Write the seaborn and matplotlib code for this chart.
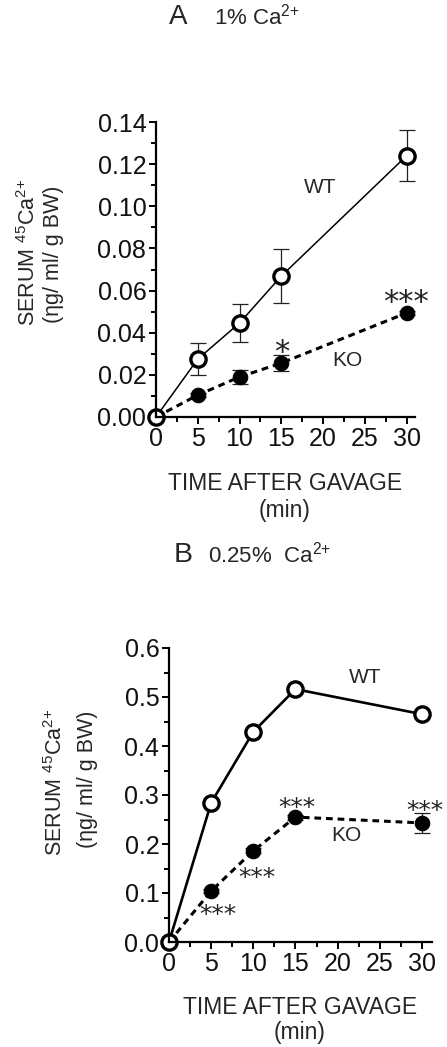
import matplotlib
matplotlib.use("Agg")
import matplotlib.pyplot as plt
import seaborn as sns
import pandas as pd
from matplotlib.ticker import MultipleLocator, FormatStrFormatter

# datos
time_min = [0, 5, 10, 15, 30]

wt_a = [0.0, 0.0275, 0.0446, 0.0669, 0.124]
wt_a_err = [0.0, 0.0075, 0.009, 0.013, 0.012]
ko_a = [0.0, 0.0104, 0.019, 0.0256, 0.0494]
ko_a_err = [0.0, 0.001, 0.0035, 0.004, 0.001]

wt_b = [0.0, 0.284, 0.429, 0.516, 0.465]
wt_b_err = [0.0, 0.005, 0.005, 0.005, 0.005]
ko_b = [0.0, 0.104, 0.186, 0.255, 0.243]
ko_b_err = [0.0, 0.005, 0.005, 0.005, 0.02]

x_ticks = [0, 5, 10, 15, 20, 25, 30]

sns.set_style("ticks")
plt.rcParams['font.family'] = ['Liberation Sans', 'DejaVu Sans']
plt.rcParams['mathtext.fontset'] = 'custom'
plt.rcParams['mathtext.rm'] = 'Liberation Sans'

W, H = 447, 1047
fig = plt.figure(figsize=(W / 100, H / 100), dpi=100)


def px(x, y):
    return x / W, 1 - y / H


def panel(rect, wt, wt_err, ko, ko_err, ylim, ymaj, ymin, fmt, xmax, wt_lw):
    ax = fig.add_axes(rect)
    df_wt = pd.DataFrame({'t': time_min, 'v': wt})
    df_ko = pd.DataFrame({'t': time_min, 'v': ko})
    ax.errorbar(time_min, wt, yerr=wt_err, fmt='none', ecolor='#222222',
                elinewidth=0.9, capsize=5.5, capthick=0.9, zorder=1.5, clip_on=False)
    ax.errorbar(time_min, ko, yerr=ko_err, fmt='none', ecolor='#222222',
                elinewidth=0.9, capsize=5.5, capthick=0.9, zorder=1.5, clip_on=False)
    sns.lineplot(data=df_ko, x='t', y='v', ax=ax, color='black', lw=2.2,
                 ls=(0, (2.2, 1.6)), marker='o', markersize=10.5,
                 markerfacecolor='black', markeredgecolor='black',
                 errorbar=None, clip_on=False, zorder=2)
    sns.lineplot(data=df_wt, x='t', y='v', ax=ax, color='black', lw=wt_lw,
                 marker='o', markersize=11, markerfacecolor='white',
                 markeredgecolor='black', markeredgewidth=2.4,
                 errorbar=None, clip_on=False, zorder=2.2)
    ax.set_xlim(0, xmax)
    ax.set_ylim(*ylim)
    ax.set_xticks(x_ticks)
    ax.xaxis.set_minor_locator(MultipleLocator(2.5))
    ax.yaxis.set_major_locator(MultipleLocator(ymaj))
    ax.yaxis.set_minor_locator(MultipleLocator(ymin))
    ax.yaxis.set_major_formatter(FormatStrFormatter(fmt))
    ax.tick_params(axis='both', which='major', length=5, width=1.4,
                   labelsize=18, pad=2, color='black', labelcolor='#111111')
    ax.tick_params(axis='both', which='minor', length=3.5, width=1.4, color='black')
    for s in ['top', 'right']:
        ax.spines[s].set_visible(False)
    for s in ['left', 'bottom']:
        ax.spines[s].set_linewidth(1.6)
        ax.spines[s].set_color('black')
        ax.spines[s].set_zorder(3)
    ax.set_xlabel('')
    ax.set_ylabel('')
    return ax


def stars(ax, text, x, y, fs):
    ax.annotate(text, xy=(x, y), xytext=(0, -0.59 * fs), textcoords='offset points',
                ha='center', va='baseline', fontsize=fs, family='DejaVu Sans',
                color='#222222', annotation_clip=False)


# panel A
ax_a = panel([156 / W, 1 - 417 / H, 259 / W, 295 / H], wt_a, wt_a_err, ko_a, ko_a_err,
             (0, 0.14), 0.02, 0.01, '%.2f', 31, 1.1)
ax_a.text(19.7, 0.109, 'WT', fontsize=15, ha='center', va='center')
ax_a.text(22.9, 0.027, 'KO', fontsize=15, ha='center', va='center')
stars(ax_a, '*', 15.1, 0.035, 22)
stars(ax_a, '***', 29.9, 0.059, 22)

# panel B
ax_b = panel([169 / W, 1 - 942 / H, 263 / W, 294 / H], wt_b, wt_b_err, ko_b, ko_b_err,
             (0, 0.6), 0.1, 0.05, '%.1f', 31.2, 1.9)
ax_b.text(23.25, 0.539, 'WT', fontsize=15, ha='center', va='center')
ax_b.text(21.1, 0.218, 'KO', fontsize=15, ha='center', va='center')
stars(ax_b, '***', 5.8, 0.071, 18)
stars(ax_b, '***', 10.4, 0.147, 18)
stars(ax_b, '***', 15.2, 0.290, 18)
stars(ax_b, '***', 30.4, 0.284, 18)

# titulos
sup = r'$\mathregular{^{2{+}}}$'
fig.text(*px(169, 24), 'A', fontsize=20, ha='left', va='baseline')
fig.text(*px(214, 24), '1% Ca' + sup, fontsize=16, ha='left', va='baseline')
fig.text(*px(174, 562), 'B', fontsize=20.5, ha='left', va='baseline')
fig.text(*px(208, 562), '0.25%  Ca' + sup, fontsize=16, ha='left', va='baseline')

# etiquetas de ejes
fig.text(*px(285, 483), 'TIME AFTER GAVAGE', fontsize=16.5, ha='center', va='center')
fig.text(*px(285, 510), '(min)', fontsize=16.5, ha='center', va='center')
fig.text(*px(300, 1007), 'TIME AFTER GAVAGE', fontsize=16.5, ha='center', va='center')
fig.text(*px(300, 1033), '(min)', fontsize=16.5, ha='center', va='center')

ylab1 = r'SERUM $\mathregular{^{45}}$Ca' + sup
fig.text(*px(29, 252), ylab1, fontsize=15.5, rotation=90, ha='center', va='center')
fig.text(*px(53, 254), '(ηg/ ml/ g BW)', fontsize=15.5, rotation=90, ha='center', va='center')
fig.text(*px(56, 782), ylab1, fontsize=15.5, rotation=90, ha='center', va='center')
fig.text(*px(87, 779), '(ηg/ ml/ g BW)', fontsize=15.5, rotation=90, ha='center', va='center')

fig.savefig('out.png', dpi=100, facecolor='white')
